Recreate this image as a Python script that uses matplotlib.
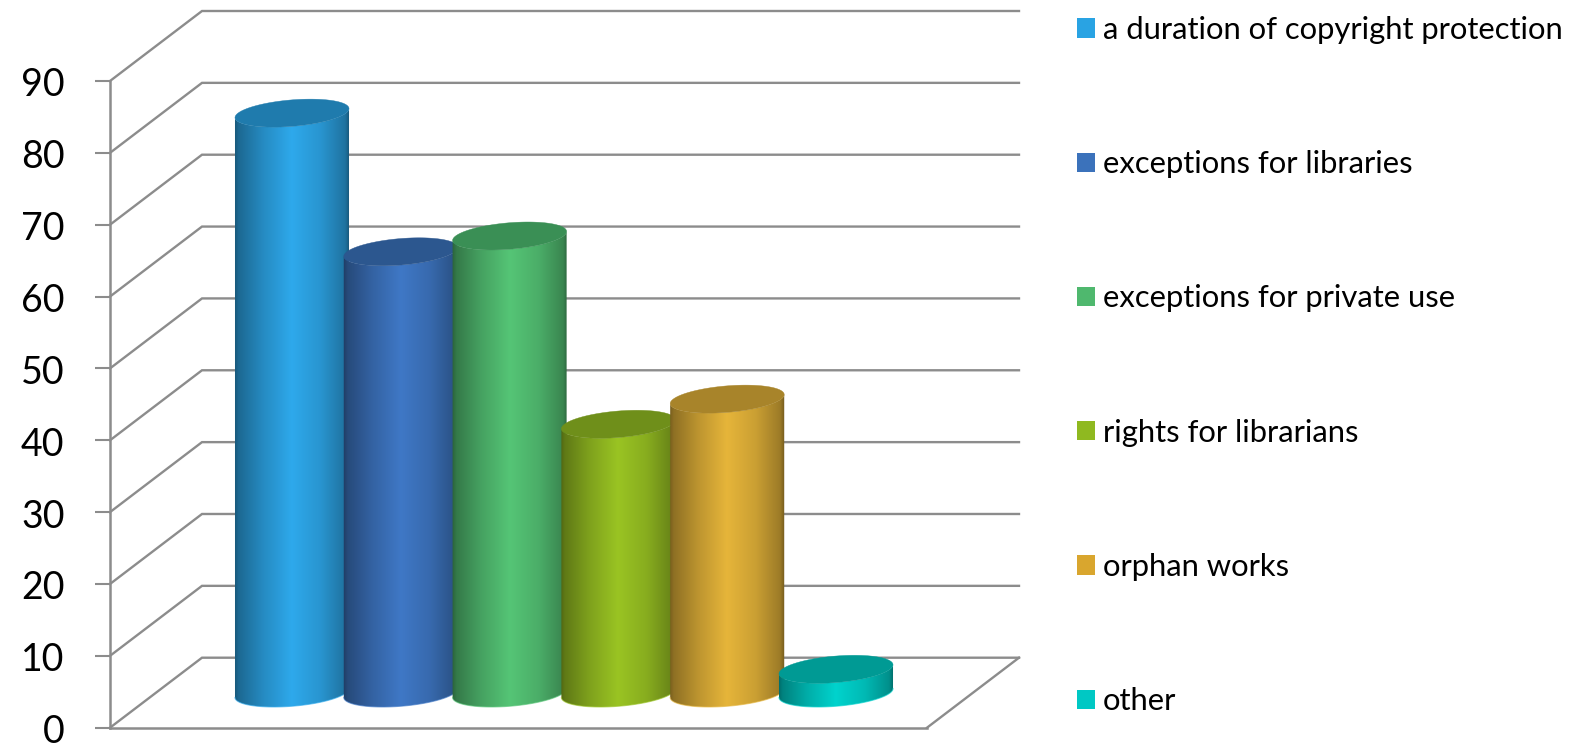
import numpy as np
import matplotlib
matplotlib.use('Agg')
import matplotlib.pyplot as plt
from matplotlib.patches import Patch
from matplotlib.path import Path
from matplotlib.transforms import Affine2D

# data
categories = ['a duration of copyright protection', 'exceptions for libraries',
              'exceptions for private use', 'rights for librarians', 'orphan works', 'other']
values = [80.7, 61.4, 63.6, 37.4, 40.9, 3.3]
yticks = [0, 10, 20, 30, 40, 50, 60, 70, 80, 90]

side_colors = ['#2EA9EC', '#3F78C6', '#55C576', '#9AC423', '#E6B53A', '#00D3CD']
top_colors = ['#1F7BAD', '#2C578F', '#3A8F55', '#6F8F1A', '#A8842A', '#009A94']
legend_colors = ['#29A3E3', '#3B72BB', '#4FB86E', '#8FB920', '#D9A62E', '#00C8C4']

grid_color = '#8C8C8C'

plt.rcParams['font.family'] = 'Lato'

fig = plt.figure(figsize=(15.79, 7.45), dpi=100)
ax = fig.add_axes([110 / 1579, (745 - 727.7) / 745, 817 / 1579, (727.7 - 81) / 745])
ax.set_xlim(110, 927)
ax.set_ylim(0, 90)
per_unit = (727.7 - 81) / 90

# back wall and side wall of the 3d box
depth_x = 92
depth_y = 70 / per_unit
for v in yticks:
    ax.plot([110, 110 + depth_x, 927 + depth_x], [v, v + depth_y, v + depth_y],
            color=grid_color, lw=1.7, clip_on=False, zorder=1, solid_joinstyle='miter')
ax.plot([927, 927 + depth_x], [0, depth_y], color=grid_color, lw=1.7, clip_on=False, zorder=1)


def tilted_ellipse(cx, cy, t):
    a, b, th = 57.2, 13.2, np.radians(4.76)
    px = a * np.cos(t) * np.cos(th) - b * np.sin(t) * np.sin(th)
    py = a * np.cos(t) * np.sin(th) + b * np.sin(t) * np.cos(th)
    return cx + px, cy + py / per_unit


# cylinders, left to right so that each one covers the one before
first_center = 292
step = 108.8
floor = 34.7 / per_unit
shade = np.interp(np.linspace(0, 1, 256), [0, 0.04, 0.25, 0.5, 0.75, 0.96, 1],
                  [0.50, 0.62, 0.82, 1.0, 0.88, 0.68, 0.50])
# angle of the rightmost point of the ellipse
t0 = np.arctan2(-13.2 * np.sin(np.radians(4.76)), 57.2 * np.cos(np.radians(4.76)))
for i, (val, side, top) in enumerate(zip(values, side_colors, top_colors)):
    cx = first_center + i * step
    lower = np.linspace(np.pi + t0, 2 * np.pi + t0, 80)
    bx, by = tilted_ellipse(cx, floor, lower)
    tx, ty = tilted_ellipse(cx, floor + val, lower[::-1])
    xs = np.concatenate([bx, tx, bx[:1]])
    ys = np.concatenate([by, ty, by[:1]])
    body = Path(np.column_stack([xs, ys]))
    rgb = np.array(matplotlib.colors.to_rgb(side))
    grad = (shade[:, None] * rgb)[None, :, :]
    im = ax.imshow(grad, extent=[cx - 58, cx + 58, 0, floor + val + 3], aspect='auto',
                   interpolation='bilinear', zorder=2 + i * 0.1)
    im.set_clip_path(body, ax.transData)
    # thin outline hides the rough clip edge
    ax.plot(bx, by, color=side, lw=0.8, alpha=0.6, zorder=2 + i * 0.1)
    ex, ey = tilted_ellipse(cx, floor + val, np.linspace(0, 2 * np.pi, 160))
    ax.fill(ex, ey, color=top, lw=0.3, zorder=2.05 + i * 0.1)

ax.set_xlim(110, 927)
ax.set_ylim(0, 90)

# axes
for s in ['top', 'right']:
    ax.spines[s].set_visible(False)
for s in ['left', 'bottom']:
    ax.spines[s].set_color(grid_color)
    ax.spines[s].set_linewidth(1.8)
ax.patch.set_alpha(0)
ax.set_xticks([])
ax.set_yticks(yticks)
ax.tick_params(axis='y', length=10.8, width=1.5, color=grid_color, pad=22, labelsize=27, labelcolor='black')
for lbl in ax.get_yticklabels():
    lbl.set_transform(lbl.get_transform() + Affine2D().translate(0, -1))

# legend
handles = [Patch(facecolor=c, edgecolor='none', label=n) for c, n in zip(legend_colors, categories)]
leg = fig.legend(handles=handles, loc='upper left', bbox_to_anchor=(1077 / 1579, 1 - 16 / 745),
                 frameon=False, fontsize=22.3, handlelength=0.58, handleheight=0.58,
                 handletextpad=0.26, labelspacing=3.43, borderpad=0, borderaxespad=0)

fig.savefig('out.png', dpi=100, facecolor='white')
